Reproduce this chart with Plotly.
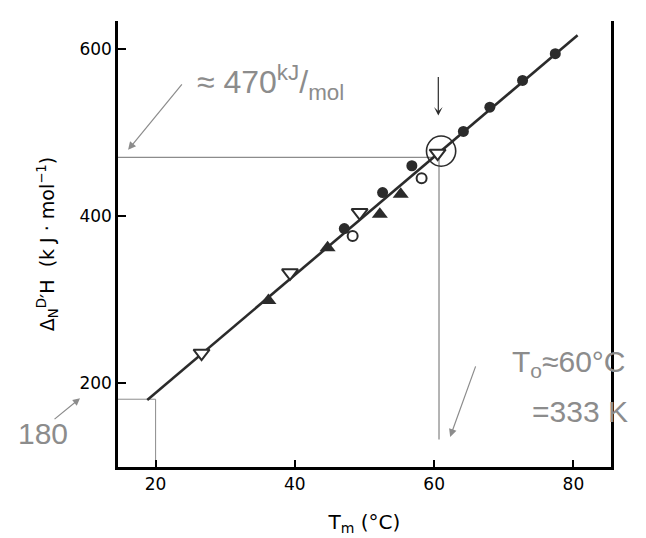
import plotly.graph_objects as go

# ---- data ----
filled_circle_t = [47.1, 52.6, 56.8, 64.2, 68.0, 72.7, 77.4]
filled_circle_h = [385, 428, 460, 501, 530, 562, 594]

open_circle_t = [48.3, 58.2]
open_circle_h = [376, 445]

filled_triangle_t = [36.2, 44.7, 52.2, 55.2]
filled_triangle_h = [299, 362, 402, 426]

open_triangle_t = [26.6, 39.3, 49.3, 60.5]
open_triangle_h = [236, 332, 404, 475]

fit_t = [18.8, 80.6]
fit_h = [180, 616]

# hand-drawn guide values
t0 = 60.7
h_t0 = 470
t_low = 20
h_low = 181

x_ticks = [20, 40, 60, 80]
y_ticks = [200, 400, 600]

GRAY = "#8c8c8c"
INK = "#2b2b2b"

fig = go.Figure()

fig.add_trace(go.Scatter(x=fit_t, y=fit_h, mode="lines",
                         line=dict(color=INK, width=2.6), showlegend=False))

fig.add_trace(go.Scatter(x=filled_circle_t, y=filled_circle_h, mode="markers",
                         marker=dict(symbol="circle", size=11, color=INK,
                                     line=dict(width=0)), showlegend=False))
fig.add_trace(go.Scatter(x=open_circle_t, y=open_circle_h, mode="markers",
                         marker=dict(symbol="circle", size=10, color="white",
                                     line=dict(color=INK, width=2)), showlegend=False))
fig.add_trace(go.Scatter(x=filled_triangle_t, y=filled_triangle_h, mode="markers",
                         marker=dict(symbol="triangle-up", size=14, color=INK,
                                     line=dict(width=0)), showlegend=False))
fig.add_trace(go.Scatter(x=open_triangle_t, y=open_triangle_h, mode="markers",
                         marker=dict(symbol="triangle-down", size=14, color="white",
                                     line=dict(color=INK, width=2)), showlegend=False))

# gray guide lines
fig.add_shape(type="line", x0=14.6, x1=t0, y0=h_t0, y1=h_t0,
              line=dict(color=GRAY, width=1.3), layer="below")
fig.add_shape(type="line", x0=t0, x1=t0, y0=h_t0, y1=133,
              line=dict(color=GRAY, width=1.3), layer="below")
fig.add_shape(type="line", x0=14.6, x1=t_low, y0=h_low, y1=h_low,
              line=dict(color=GRAY, width=1.0), layer="below")
fig.add_shape(type="line", x0=t_low, x1=t_low, y0=h_low, y1=100,
              line=dict(color=GRAY, width=1.0), layer="below")

# circle around the T0 point
fig.add_shape(type="circle", x0=58.9, x1=63.1, y0=459.5, y1=495.5,
              line=dict(color=INK, width=1.6))

# black arrow pointing at circled point
fig.add_annotation(x=60.6, y=520, ax=0, ay=-40, showarrow=True,
                   arrowhead=3, arrowsize=1.2, arrowwidth=1.2, arrowcolor=INK, text="")

# handwritten notes
fig.add_annotation(x=36.5, y=560, text="≈ 470<sup>kJ</sup>/<sub>mol</sub>", showarrow=False,
                   font=dict(family="Liberation Sans", size=32, color=GRAY))
fig.add_annotation(x=16.05, y=479, ax=55, ay=-67, showarrow=True, text="",
                   arrowhead=2, arrowsize=1.3, arrowwidth=1.2, arrowcolor=GRAY)

fig.add_annotation(x=79.3, y=224, text="T<sub>o</sub>≈60°C", showarrow=False,
                   font=dict(family="Liberation Sans", size=30, color=GRAY))
fig.add_annotation(x=81.0, y=166, text="=333 K", showarrow=False,
                   font=dict(family="Liberation Sans", size=30, color=GRAY))
fig.add_annotation(x=62.3, y=136, ax=26, ay=-72, showarrow=True, text="",
                   arrowhead=2, arrowsize=1.3, arrowwidth=1.2, arrowcolor=GRAY)

# "180" note sits left of the axis -> paper coordinates
fig.add_annotation(xref="paper", yref="paper", x=-0.152, y=0.074, text="180",
                   showarrow=False, xanchor="center", yanchor="middle",
                   font=dict(family="Liberation Sans", size=30, color=GRAY))
fig.add_annotation(xref="paper", yref="paper", x=-0.077, y=0.154,
                   ax=-27, ay=22, showarrow=True, text="",
                   arrowhead=2, arrowsize=1.2, arrowwidth=1.2, arrowcolor=GRAY)

fig.update_layout(
    width=646, height=538,
    margin=dict(l=110, r=43, t=13, b=79),
    paper_bgcolor="white", plot_bgcolor="white",
    showlegend=False,
    font=dict(family="DejaVu Sans", color="black"),
)

fig.update_xaxes(
    range=[14.6, 85.4], tickvals=x_ticks, ticktext=[str(v) for v in x_ticks],
    showgrid=False, zeroline=False,
    showline=True, linecolor="black", linewidth=2.5, mirror=False,
    ticks="inside", ticklen=7, tickwidth=2, tickcolor="black",
    tickfont=dict(size=17, family="DejaVu Sans", color="black"),
    title=dict(text="T<sub>m</sub> (°C)", font=dict(size=20, family="DejaVu Sans"), standoff=22),
)
fig.update_yaxes(
    range=[100, 633], tickvals=y_ticks, ticktext=[str(v) for v in y_ticks],
    showgrid=False, zeroline=False,
    showline=True, linecolor="black", linewidth=2.5, mirror=True,
    ticks="inside", ticklen=8, tickwidth=2, tickcolor="black",
    tickfont=dict(size=17, family="DejaVu Sans", color="black"),
    title=dict(text="Δ<sub>N</sub><sup>D</sup>′H  (k J · mol<sup>−1</sup>)",
               font=dict(size=19, family="DejaVu Sans"), standoff=20),
)

fig.write_html("out.html")
